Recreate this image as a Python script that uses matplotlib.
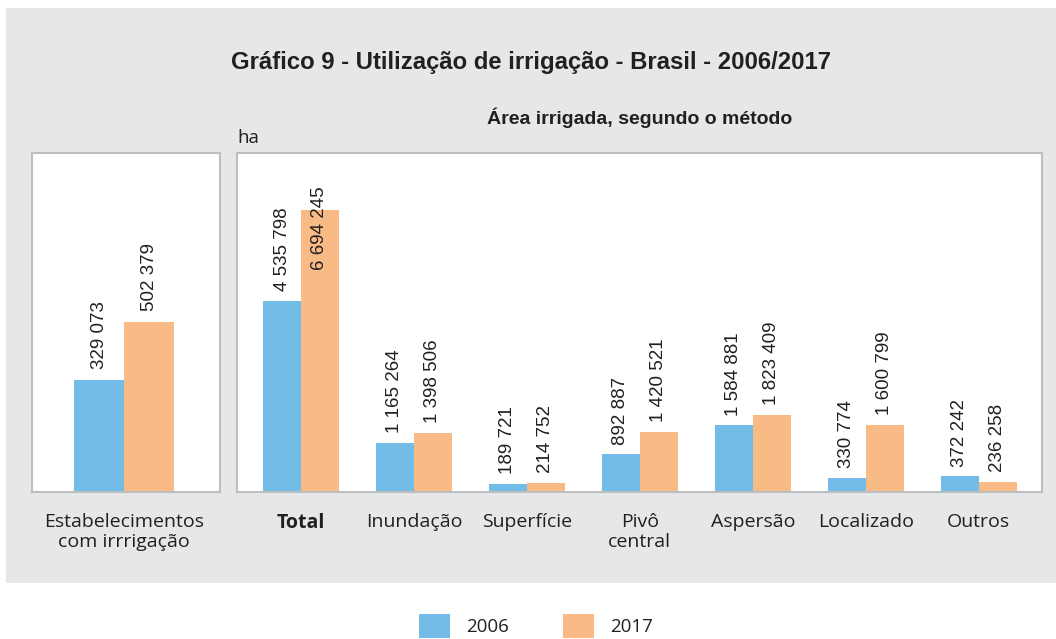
import matplotlib
matplotlib.use("Agg")
import matplotlib.pyplot as plt
from matplotlib.patches import Rectangle, Patch

# ---- data ----
years = ["2006", "2017"]
estab_label = "Estabelecimentos\ncom irrrigação"
estab_2006 = [329073]
estab_2017 = [502379]

methods = ["Total", "Inundação", "Superfície", "Pivô\ncentral", "Aspersão", "Localizado", "Outros"]
area_2006 = [4535798, 1165264, 189721, 892887, 1584881, 330774, 372242]
area_2017 = [6694245, 1398506, 214752, 1420521, 1823409, 1600799, 236258]

title = "Gráfico 9 - Utilização de irrigação - Brasil - 2006/2017"
subtitle = "Área irrigada, segundo o método"
unit = "ha"

BLUE = "#73BCE7"
ORANGE = "#F9BB85"
BG = "#E6E7E9"
EDGE = "#BDBEC0"
TXT = "#231F20"
CATFONT = ['Open Sans', 'DejaVu Sans']

plt.rcParams['font.family'] = ['Liberation Sans', 'DejaVu Sans']

W, H = 1056, 639
fig = plt.figure(figsize=(W / 100, H / 100), dpi=100)
fig.patch.set_facecolor("white")
fig.add_artist(Rectangle((6 / W, 1 - 583 / H), 1050 / W, 575 / H,
                         transform=fig.transFigure, facecolor=BG, edgecolor="none", zorder=-10))


def fmt(v):
    return f"{v:,}".replace(",", " ")


def style(ax):
    ax.set_facecolor("white")
    for s in ax.spines.values():
        s.set_color(EDGE)
        s.set_linewidth(1.5)
    ax.set_yticks([])
    ax.tick_params(axis="x", length=0, pad=15, labelsize=14, labelcolor=TXT)


def setlabels(ax, labels):
    ax.set_xticklabels(labels, family=CATFONT, fontsize=14, linespacing=1.15)


# left panel
axL = fig.add_axes([32 / W, 1 - 492 / H, 188 / W, 339 / H])
style(axL)
bw = 0.265
axL.bar([0 - bw / 2], estab_2006, width=bw, color=BLUE)
axL.bar([0 + bw / 2], estab_2017, width=bw, color=ORANGE)
axL.set_xlim(-0.49, 0.51)
axL.set_ylim(0, 1.0e6)
axL.set_xticks([0])
setlabels(axL, [estab_label])
for x, v in [(-bw / 2, estab_2006[0]), (bw / 2, estab_2017[0])]:
    axL.annotate(fmt(v), (x, v), xytext=(0, 8), textcoords="offset points",
                 rotation=90, ha="center", va="bottom", fontsize=13.5, color=TXT)

# right panel
axR = fig.add_axes([237 / W, 1 - 492 / H, 805 / W, 339 / H])
style(axR)
bw = 0.335
xs = list(range(len(methods)))
axR.bar([x - bw / 2 for x in xs], area_2006, width=bw, color=BLUE)
axR.bar([x + bw / 2 for x in xs], area_2017, width=bw, color=ORANGE)
axR.set_xlim(-0.566, len(methods) - 1 + 0.56)
axR.set_ylim(0, 8.05e6)
axR.set_xticks(xs)
setlabels(axR, methods)
axR.get_xticklabels()[0].set_fontweight("bold")
for i, x in enumerate(xs):
    for dx, v in [(-bw / 2, area_2006[i]), (bw / 2, area_2017[i])]:
        off = 7
        if v > 6e6:
            off = -43
        axR.annotate(fmt(v), (x + dx, v), xytext=(0, off), textcoords="offset points",
                     rotation=90, ha="center", va="bottom", fontsize=13.5, color=TXT)

fig.text(531 / W, 1 - 62 / H, title, ha="center", va="center", fontsize=17.2,
         fontweight="bold", color=TXT)
fig.text(640 / W, 1 - 118 / H, subtitle, ha="center", va="center", fontsize=14,
         fontweight="bold", color=TXT)
fig.text(237 / W, 1 - 138 / H, unit, ha="left", va="center", fontsize=13.5, color=TXT,
         family=CATFONT)

handles = [Patch(facecolor=BLUE, edgecolor="none", label=years[0]),
           Patch(facecolor=ORANGE, edgecolor="none", label=years[1])]
leg = fig.legend(handles=handles, loc="center", bbox_to_anchor=(536 / W, 1 - 626 / H), ncol=2,
                 frameon=False, fontsize=13.5, handlelength=1.65, handleheight=1.55,
                 handletextpad=0.85, columnspacing=2.9, labelcolor=TXT)
for t in leg.get_texts():
    t.set_family(CATFONT)

fig.savefig("out.png", dpi=100, facecolor="white")
